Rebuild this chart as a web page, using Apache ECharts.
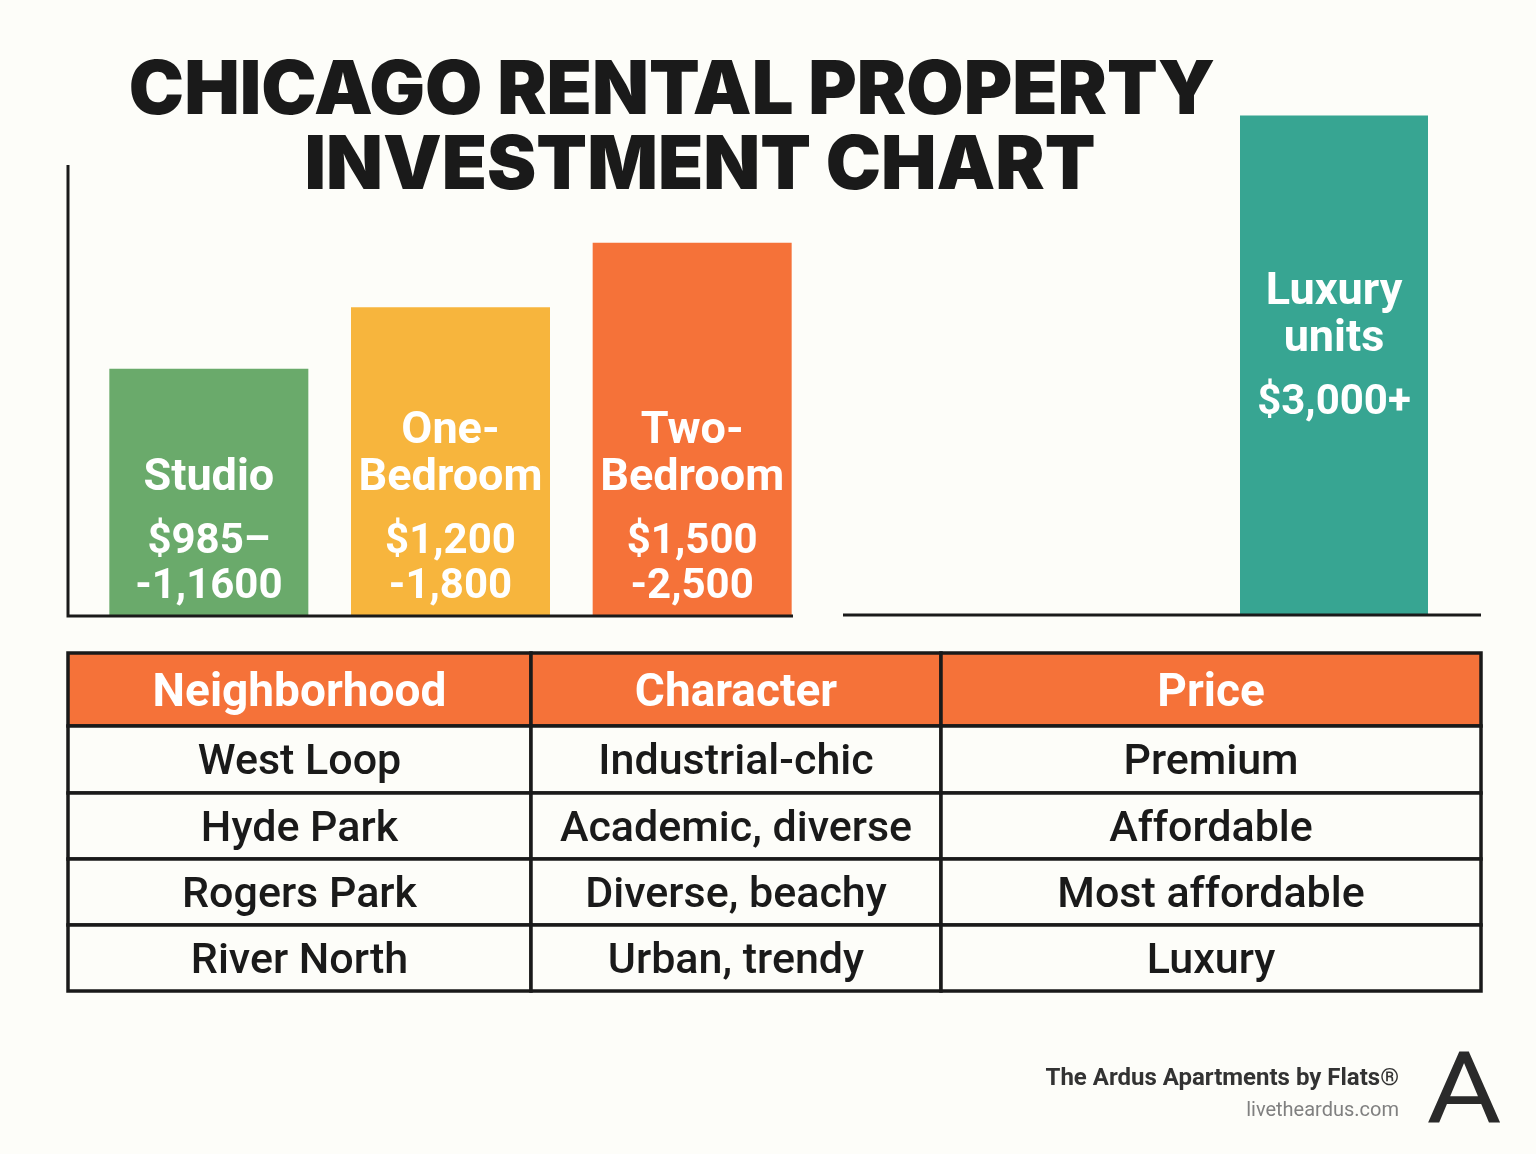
<!DOCTYPE html>
<html>
<head>
<meta charset="utf-8">
<title>Chicago Rental Property Investment Chart</title>
<script src="https://cdn.jsdelivr.net/npm/echarts@6/dist/echarts.min.js"></script>
<style>
    html, body { margin: 0; padding: 0; background: #fdfdf9; }
    #main { width: 1536px; height: 1154px; }
</style>
</head>
<body>
<div id="main"></div>
<script>
// rent bands (bar heights, in $)
var unitTypes = ['Studio', 'One-\nBedroom', 'Two-\nBedroom'];
var priceRanges = ['$985–\n-1,1600', '$1,200\n-1,800', '$1,500\n-2,500'];
var barValues = [1600, 2000, 2420];

var luxuryTypes = ['Luxury\nunits'];
var luxuryPrices = ['$3,000+'];
var luxuryValues = [3250];

// neighborhood table
var tableHeaders = ['Neighborhood', 'Character', 'Price'];
var neighborhoods = ['West Loop', 'Hyde Park', 'Rogers Park', 'River North'];
var characters = ['Industrial-chic', 'Academic, diverse', 'Diverse, beachy', 'Urban, trendy'];
var priceLevels = ['Premium', 'Affordable', 'Most affordable', 'Luxury'];

var barColors = ['#6aaa6b', '#f7b53d', '#f57239'];
var luxuryColor = '#37a592';
var headerColor = '#f57239';
var ink = '#1a1a1a';
var bg = '#fdfdf9';

// table layout (px inside the table grid)
var colEdges = [0, 463, 873, 1413];
var rowEdges = [0, 73, 140, 206, 272, 338];

var chart = echarts.init(document.getElementById('main'));

/**
 * build rich label text: name lines, a small gap, price lines
 *
 * @param  {string} name  unit type, lines split by \n
 * @param  {string} price price range, lines split by \n
 * @return {string} rich text
 */
function richLabel(name, price) {
    var lines = name.split('\n').map(function (s) {
        return '{n|' + s + '}';
    });
    lines.push('{g| }');
    price.split('\n').forEach(function (s) {
        lines.push('{p|' + s + '}');
    });
    return lines.join('\n');
}

var labelRich = {
    n: {fontSize: 45, fontWeight: 'bold', fontFamily: 'Roboto', color: '#fff', lineHeight: 47},
    g: {fontSize: 10, fontFamily: 'Roboto', lineHeight: 18},
    p: {fontSize: 42, fontWeight: 'bold', fontFamily: 'Roboto', color: '#fff', lineHeight: 45}
};

var barData = barValues.map(function (v, i) {
    return {
        value: v,
        itemStyle: {color: barColors[i]},
        label: {formatter: richLabel(unitTypes[i], priceRanges[i])}
    };
});

var luxuryData = luxuryValues.map(function (v, i) {
    return {
        value: v,
        label: {formatter: richLabel(luxuryTypes[i], luxuryPrices[i])}
    };
});

// table cells: [col, row]
var cells = [];
var tableRows = [tableHeaders];
for (var r = 0; r < neighborhoods.length; ++r) {
    tableRows.push([neighborhoods[r], characters[r], priceLevels[r]]);
}
for (var ri = 0; ri < tableRows.length; ++ri) {
    for (var ci = 0; ci < 3; ++ci) {
        cells.push([ci, ri]);
    }
}

function renderCell(params, api) {
    var c = api.value(0);
    var r = api.value(1);
    var p0 = api.coord([colEdges[c], rowEdges[r]]);
    var p1 = api.coord([colEdges[c + 1], rowEdges[r + 1]]);
    var isHead = r === 0;
    return {
        type: 'group',
        children: [{
            type: 'rect',
            shape: {x: p0[0], y: p0[1], width: p1[0] - p0[0], height: p1[1] - p0[1]},
            style: {fill: isHead ? headerColor : bg, stroke: ink, lineWidth: 3.5}
        }, {
            type: 'text',
            x: (p0[0] + p1[0]) / 2,
            y: (p0[1] + p1[1]) / 2 + (isHead ? 5 : 4),
            style: {
                text: tableRows[r][c],
                align: 'center',
                verticalAlign: 'middle',
                fill: isHead ? '#fff' : ink,
                font: isHead ? 'bold 46px Roboto' : '500 43px Roboto'
            }
        }]
    };
}

chart.setOption({
    backgroundColor: bg,
    animation: false,
    title: [{
        text: 'CHICAGO RENTAL PROPERTY',
        left: 672,
        top: 55,
        padding: 0,
        textAlign: 'center',
        textStyle: {fontSize: 74, fontWeight: 900, fontFamily: 'Inter', color: ink}
    }, {
        text: 'INVESTMENT CHART',
        left: 700,
        top: 130,
        padding: 0,
        textAlign: 'center',
        textStyle: {fontSize: 74, fontWeight: 900, fontFamily: 'Inter', color: ink}
    }],
    grid: [
        {left: 88, top: 165, width: 725, height: 450, outerBoundsMode: 'none'},
        {left: 1240, top: 77, width: 188, height: 538, outerBoundsMode: 'none'},
        {left: 68, top: 653, width: 1413, height: 338, outerBoundsMode: 'none'}
    ],
    xAxis: [
        {gridIndex: 0, type: 'category', data: unitTypes, show: false},
        {gridIndex: 1, type: 'category', data: luxuryTypes, show: false},
        {gridIndex: 2, type: 'value', min: 0, max: 1413, show: false}
    ],
    yAxis: [
        {gridIndex: 0, type: 'value', min: 0, max: 2925, show: false},
        {gridIndex: 1, type: 'value', min: 0, max: 3500, show: false},
        {gridIndex: 2, type: 'value', min: 0, max: 338, inverse: true, show: false}
    ],
    series: [{
        type: 'bar',
        xAxisIndex: 0,
        yAxisIndex: 0,
        barWidth: 199,
        data: barData,
        label: {
            show: true,
            position: 'insideBottom',
            distance: 5,
            rich: labelRich
        }
    }, {
        type: 'bar',
        xAxisIndex: 1,
        yAxisIndex: 1,
        barWidth: '100%',
        itemStyle: {color: luxuryColor},
        data: luxuryData,
        label: {
            show: true,
            position: 'insideTop',
            distance: 154,
            rich: labelRich
        }
    }, {
        type: 'custom',
        xAxisIndex: 2,
        yAxisIndex: 2,
        renderItem: renderCell,
        data: cells,
        silent: true
    }],
    graphic: [{
        type: 'polyline',
        z: 100,
        shape: {points: [[68, 165], [68, 616], [793, 616]]},
        style: {stroke: ink, lineWidth: 3, fill: null}
    }, {
        type: 'line',
        z: 100,
        shape: {x1: 843, y1: 615, x2: 1481, y2: 615},
        style: {stroke: ink, lineWidth: 3}
    }, {
        type: 'text',
        x: 1399,
        y: 1079,
        style: {
            text: 'The Ardus Apartments by Flats®',
            align: 'right',
            verticalAlign: 'middle',
            font: 'bold 24px Roboto',
            fill: '#333'
        }
    }, {
        type: 'text',
        x: 1399,
        y: 1111,
        style: {
            text: 'livetheardus.com',
            align: 'right',
            verticalAlign: 'middle',
            font: '20px Roboto',
            fill: '#808080'
        }
    }, {
        type: 'text',
        x: 1464,
        y: 1098,
        scaleX: 1.15,
        style: {
            text: 'A',
            align: 'center',
            verticalAlign: 'middle',
            font: '100px Roboto',
            fill: '#2a2a2a'
        }
    }]
});
</script>
</body>
</html>
